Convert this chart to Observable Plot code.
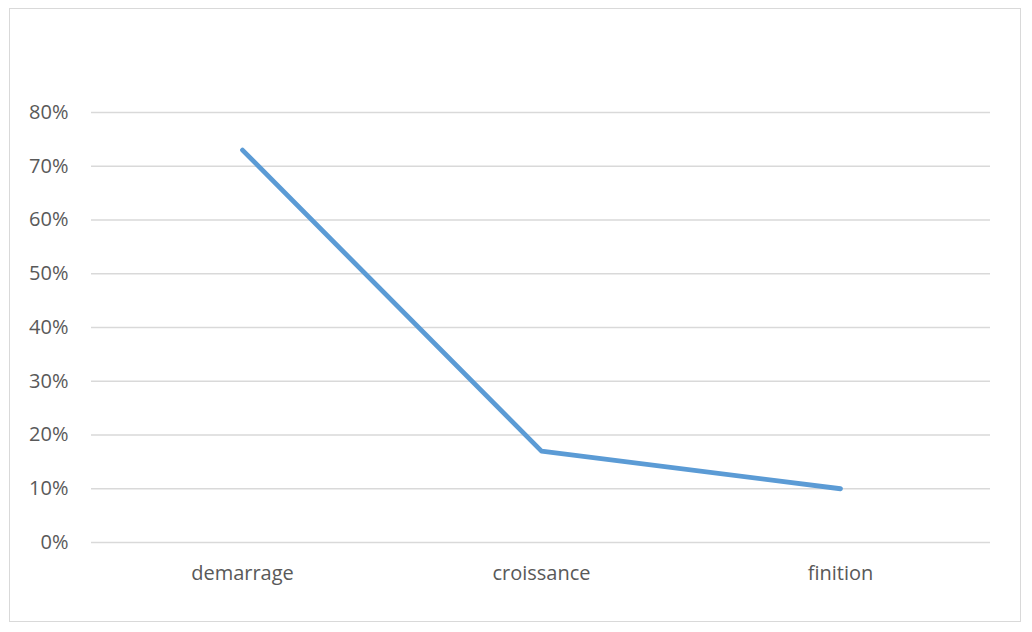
<!DOCTYPE html>
<html>
<head>
<meta charset="utf-8">
<script src="https://cdn.jsdelivr.net/npm/d3@7"></script>
<script src="https://cdn.jsdelivr.net/npm/@observablehq/plot@0.6"></script>
<style>
  html, body { margin: 0; padding: 0; background: #fff; }
  #wrap { position: relative; width: 1032px; height: 632px; }
  #frame { position: absolute; left: 9px; top: 8px; width: 1012px; height: 614px; border: 1px solid #d9d9d9; box-sizing: border-box; }
  #chart { position: absolute; left: 0; top: 0; }
</style>
</head>
<body>
<div id="wrap"><div id="frame"></div><div id="chart"></div></div>
<script>
const categories = ["demarrage", "croissance", "finition"];
const values = [0.73, 0.17, 0.10];
const yTicks = [0, 0.1, 0.2, 0.3, 0.4, 0.5, 0.6, 0.7, 0.8];

const data = categories.map((c, i) => ({ cat: c, v: values[i] }));

const chart = Plot.plot({
  width: 1032,
  height: 632,
  marginLeft: 91,
  marginRight: 42,
  marginTop: 112,
  marginBottom: 90,
  style: { fontFamily: "'Open Sans', sans-serif", fontSize: "20px", color: "#595959", background: "transparent" },
  x: { type: "point", domain: categories, padding: 0.5, label: null },
  y: { domain: [0, 0.8], label: null },
  marks: [
    Plot.ruleY(yTicks, { stroke: "#d9d9d9", strokeWidth: 1.3, strokeOpacity: 1 }),
    Plot.axisY({ ticks: yTicks, tickSize: 0, tickPadding: 23, tickFormat: d3.format(".0%"), label: null, fill: "#595959" }),
    Plot.axisX({ tickSize: 0, tickPadding: 23, label: null, fill: "#595959" }),
    Plot.line(data, { x: "cat", y: "v", stroke: "#5b9bd5", strokeWidth: 4.8, strokeLinecap: "round", strokeLinejoin: "round" })
  ]
});
document.getElementById("chart").appendChild(chart);
</script>
</body>
</html>
